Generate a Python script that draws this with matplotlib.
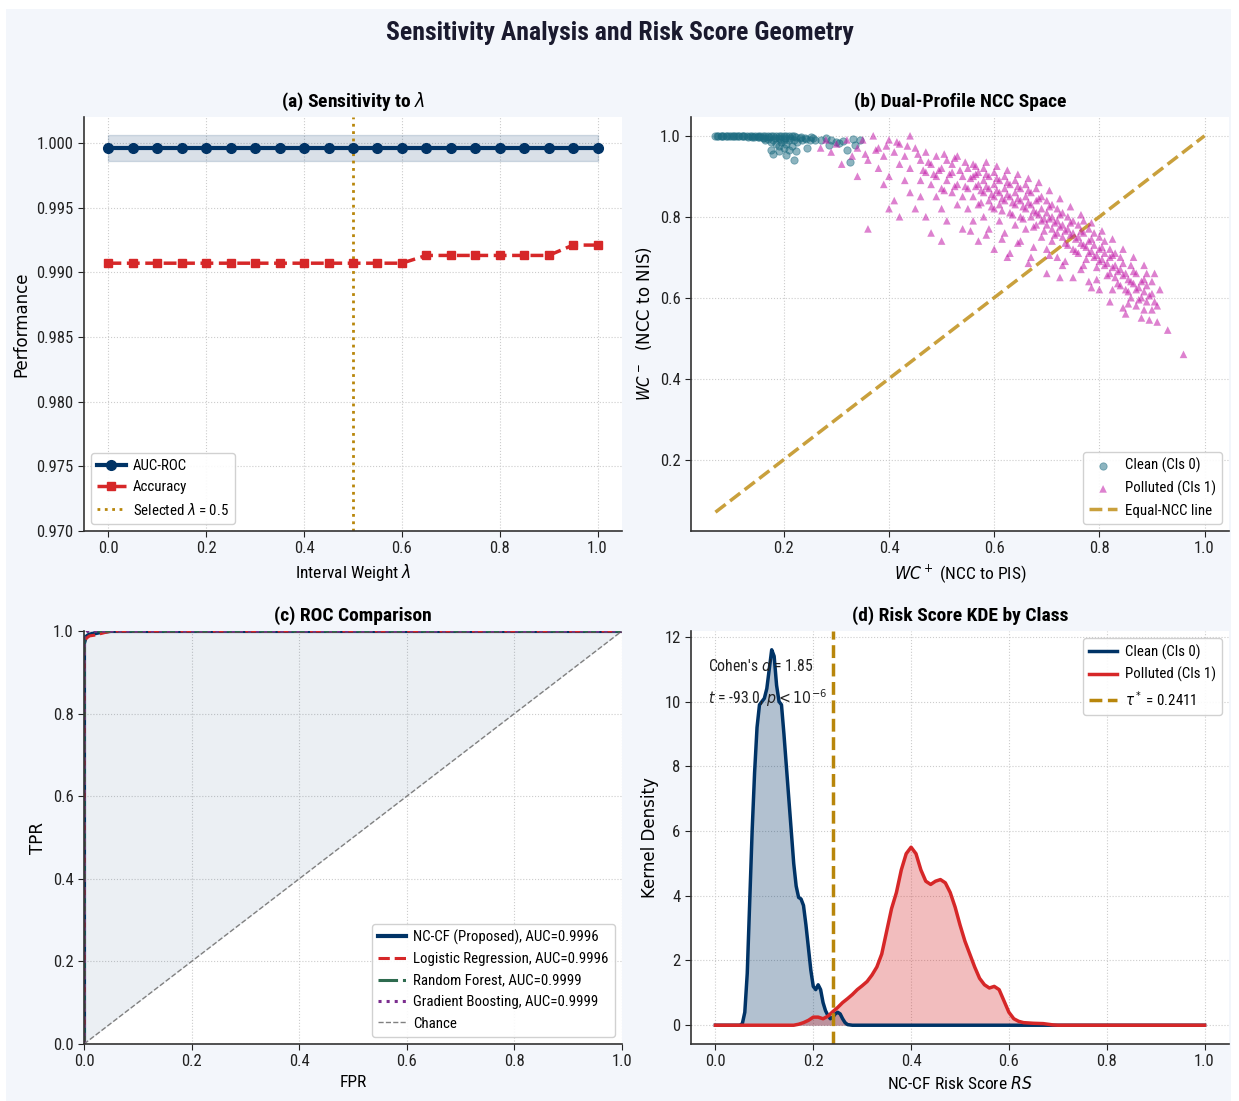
import matplotlib
matplotlib.use("Agg")
import matplotlib.pyplot as plt
from matplotlib.patches import Rectangle
import numpy as np

plt.rcParams['font.family'] = ['Roboto Condensed', 'Liberation Sans Narrow', 'Open Sans Condensed',
                               'Noto Sans Condensed', 'DejaVu Sans']
plt.rcParams['font.stretch'] = 'condensed'
plt.rcParams['axes.unicode_minus'] = False

# ---------------- data ----------------
lam = [0.0, 0.05, 0.1, 0.15, 0.2, 0.25, 0.3, 0.35, 0.4, 0.45, 0.5,
       0.55, 0.6, 0.65, 0.7, 0.75, 0.8, 0.85, 0.9, 0.95, 1.0]
auc_roc = [0.9996] * 21
auc_band = 0.001
accuracy = [0.9907, 0.9907, 0.9907, 0.9907, 0.9907, 0.9907, 0.9907, 0.9907,
            0.9907, 0.9907, 0.9907, 0.9907, 0.9907, 0.9913, 0.9913, 0.9913,
            0.9913, 0.9913, 0.9913, 0.9921, 0.9921]
selected_lambda = 0.5

clean_pts = [
    (0.07, 1.0), (0.075, 1.0), (0.08, 1.0), (0.085, 1.0), (0.09, 1.0), (0.095, 1.0),
    (0.10, 1.0), (0.105, 1.0), (0.11, 1.0), (0.115, 1.0), (0.12, 1.0), (0.125, 1.0),
    (0.13, 1.0), (0.135, 1.0), (0.14, 1.0), (0.145, 1.0), (0.15, 1.0), (0.155, 1.0),
    (0.16, 1.0), (0.165, 1.0), (0.17, 1.0), (0.175, 1.0), (0.18, 1.0), (0.185, 1.0),
    (0.19, 1.0), (0.195, 1.0), (0.20, 1.0), (0.205, 1.0), (0.21, 1.0), (0.215, 1.0),
    (0.22, 1.0), (0.0725, 0.999), (0.0825, 0.999), (0.0925, 0.999), (0.1025, 0.999),
    (0.1125, 0.999), (0.1225, 0.999), (0.1325, 0.998), (0.1425, 0.997), (0.1525, 0.996),
    (0.1625, 0.995), (0.1725, 0.996), (0.1825, 0.994), (0.1925, 0.993), (0.2025, 0.995),
    (0.2125, 0.994), (0.2225, 0.996), (0.2325, 0.997), (0.2425, 0.993), (0.2525, 0.996),
    (0.14, 0.998), (0.15, 0.997), (0.16, 0.995), (0.165, 0.99),
    (0.17, 0.993), (0.175, 0.985), (0.18, 0.99), (0.185, 0.98), (0.19, 0.995),
    (0.19, 0.975), (0.195, 0.985), (0.20, 0.99), (0.20, 0.97), (0.205, 0.98),
    (0.21, 0.99), (0.21, 0.965), (0.215, 0.975), (0.22, 0.99), (0.225, 0.985),
    (0.23, 0.995), (0.235, 0.99), (0.24, 0.995), (0.245, 0.97), (0.25, 0.99),
    (0.255, 0.995), (0.26, 0.99), (0.27, 0.99), (0.28, 0.995), (0.285, 0.978),
    (0.29, 0.99), (0.30, 0.985), (0.305, 0.983), (0.313, 0.988), (0.32, 0.966),
    (0.325, 0.936), (0.332, 0.993), (0.335, 0.978), (0.345, 0.99), (0.175, 0.966),
    (0.19, 0.963), (0.204, 0.953), (0.219, 0.941), (0.223, 0.963), (0.18, 0.955),
]
polluted_pts = [
    (0.27, 0.97), (0.28, 0.99), (0.29, 0.96), (0.30, 0.98), (0.31, 0.93), (0.32, 0.99),
    (0.33, 0.95), (0.34, 0.97), (0.34, 0.90), (0.36, 0.77), (0.35, 0.99), (0.36, 0.94),
    (0.37, 1.0), (0.38, 0.97), (0.38, 0.92), (0.39, 0.95), (0.39, 0.88), (0.40, 0.99),
    (0.40, 0.90), (0.41, 0.96), (0.41, 0.84), (0.42, 0.93), (0.42, 0.98), (0.43, 0.89),
    (0.43, 0.95), (0.44, 0.86), (0.44, 0.92), (0.44, 1.0), (0.45, 0.97), (0.45, 0.82),
    (0.40, 0.82), (0.42, 0.80),
    (0.46, 0.94), (0.46, 0.89), (0.46, 0.85), (0.47, 0.91), (0.47, 0.96), (0.47, 0.80),
    (0.48, 0.88), (0.48, 0.93), (0.48, 0.76), (0.49, 0.90), (0.49, 0.85), (0.49, 0.95),
    (0.50, 0.92), (0.50, 0.87), (0.50, 0.82), (0.50, 0.74), (0.51, 0.94), (0.51, 0.89),
    (0.51, 0.79), (0.52, 0.91), (0.52, 0.86), (0.52, 0.93), (0.53, 0.88), (0.53, 0.83),
    (0.53, 0.95), (0.54, 0.90), (0.54, 0.85), (0.54, 0.77), (0.55, 0.92), (0.55, 0.87),
    (0.55, 0.82), (0.56, 0.90), (0.56, 0.85), (0.56, 0.93), (0.56, 0.79), (0.57, 0.88),
    (0.57, 0.91), (0.57, 0.83), (0.57, 0.74), (0.58, 0.89), (0.58, 0.86), (0.58, 0.92),
    (0.58, 0.80), (0.59, 0.87), (0.59, 0.84), (0.59, 0.90), (0.59, 0.77), (0.60, 0.88),
    (0.60, 0.85), (0.60, 0.91), (0.60, 0.82), (0.60, 0.72), (0.61, 0.86), (0.61, 0.89),
    (0.61, 0.83), (0.61, 0.79), (0.62, 0.87), (0.62, 0.84), (0.62, 0.90), (0.62, 0.76),
    (0.63, 0.85), (0.63, 0.88), (0.63, 0.81), (0.63, 0.71), (0.64, 0.86), (0.64, 0.83),
    (0.64, 0.89), (0.64, 0.78), (0.65, 0.84), (0.65, 0.87),
    (0.65, 0.80), (0.65, 0.74), (0.66, 0.85), (0.66, 0.82), (0.66, 0.88), (0.66, 0.77),
    (0.67, 0.83), (0.67, 0.80), (0.67, 0.86), (0.67, 0.70), (0.68, 0.84), (0.68, 0.81),
    (0.68, 0.78), (0.68, 0.87), (0.69, 0.82), (0.69, 0.79), (0.69, 0.75), (0.69, 0.85),
    (0.70, 0.81), (0.70, 0.78), (0.70, 0.84), (0.70, 0.72), (0.70, 0.66), (0.71, 0.80),
    (0.71, 0.77), (0.71, 0.83), (0.71, 0.74), (0.72, 0.79), (0.72, 0.76), (0.72, 0.82),
    (0.72, 0.70), (0.73, 0.78), (0.73, 0.75), (0.73, 0.81), (0.73, 0.68), (0.74, 0.77),
    (0.74, 0.80), (0.74, 0.73), (0.75, 0.76), (0.75, 0.79),
    (0.75, 0.72), (0.75, 0.65), (0.76, 0.78), (0.76, 0.75), (0.76, 0.71), (0.77, 0.76),
    (0.77, 0.73), (0.77, 0.79), (0.77, 0.68), (0.78, 0.74), (0.78, 0.71), (0.78, 0.77),
    (0.78, 0.64), (0.79, 0.73), (0.79, 0.70), (0.79, 0.76), (0.80, 0.72), (0.80, 0.69),
    (0.80, 0.75), (0.80, 0.62), (0.81, 0.71), (0.81, 0.68), (0.81, 0.74), (0.82, 0.70),
    (0.82, 0.66), (0.82, 0.72), (0.82, 0.59), (0.83, 0.68), (0.83, 0.65), (0.83, 0.71),
    (0.84, 0.67), (0.84, 0.63), (0.84, 0.70), (0.85, 0.66), (0.85, 0.62),
    (0.85, 0.56), (0.86, 0.68), (0.86, 0.64), (0.86, 0.60), (0.87, 0.66), (0.87, 0.62),
    (0.87, 0.58), (0.88, 0.64), (0.88, 0.60), (0.88, 0.55), (0.89, 0.63), (0.89, 0.59),
    (0.89, 0.66), (0.90, 0.61), (0.90, 0.57), (0.90, 0.64), (0.91, 0.58), (0.91, 0.54),
    (0.93, 0.52), (0.96, 0.46),
    (0.555, 0.895), (0.565, 0.875), (0.575, 0.865), (0.585, 0.875), (0.595, 0.855),
    (0.605, 0.865), (0.615, 0.845), (0.625, 0.855), (0.635, 0.835), (0.645, 0.845),
    (0.655, 0.825), (0.665, 0.835), (0.675, 0.815), (0.685, 0.805), (0.695, 0.795),
    (0.705, 0.795), (0.715, 0.785), (0.725, 0.775), (0.735, 0.765), (0.745, 0.755),
    (0.755, 0.745), (0.765, 0.735), (0.775, 0.725), (0.785, 0.715), (0.795, 0.705),
    (0.805, 0.695), (0.815, 0.685), (0.825, 0.675), (0.835, 0.665), (0.845, 0.655),
    (0.855, 0.645), (0.865, 0.635), (0.875, 0.625), (0.885, 0.615), (0.895, 0.605),
    (0.565, 0.905), (0.585, 0.905), (0.605, 0.895), (0.625, 0.885), (0.645, 0.875),
    (0.665, 0.865), (0.685, 0.845), (0.705, 0.825), (0.725, 0.805), (0.745, 0.785),
    (0.765, 0.765), (0.785, 0.745), (0.805, 0.725), (0.825, 0.705), (0.845, 0.685),
    (0.865, 0.665), (0.885, 0.645),
    (0.575, 0.835), (0.595, 0.825), (0.615, 0.815), (0.635, 0.805), (0.655, 0.795),
    (0.675, 0.775), (0.695, 0.765), (0.715, 0.755), (0.735, 0.735), (0.755, 0.715),
    (0.775, 0.695), (0.795, 0.675), (0.815, 0.655), (0.835, 0.635), (0.855, 0.615),
    (0.875, 0.595),
    (0.475, 0.935), (0.495, 0.915), (0.515, 0.905), (0.535, 0.915), (0.545, 0.875),
    (0.525, 0.875), (0.505, 0.865), (0.485, 0.905), (0.465, 0.915), (0.455, 0.955),
    (0.435, 0.975), (0.415, 0.985), (0.395, 0.975), (0.375, 0.965), (0.355, 0.955),
    (0.505, 0.955), (0.525, 0.945), (0.545, 0.935), (0.565, 0.925), (0.585, 0.935),
    (0.605, 0.925), (0.625, 0.915), (0.645, 0.905), (0.665, 0.895), (0.685, 0.885),
    (0.705, 0.865), (0.725, 0.845), (0.745, 0.825), (0.765, 0.805), (0.785, 0.785),
    (0.805, 0.765), (0.825, 0.745), (0.845, 0.72), (0.865, 0.70), (0.885, 0.68),
    (0.905, 0.66),
    (0.555, 0.765), (0.585, 0.755), (0.615, 0.745), (0.645, 0.735), (0.675, 0.725),
    (0.705, 0.705), (0.735, 0.69), (0.765, 0.67), (0.795, 0.645), (0.825, 0.62),
    (0.855, 0.585), (0.885, 0.57), (0.905, 0.59), (0.915, 0.62), (0.895, 0.545),
    (0.845, 0.575), (0.785, 0.625), (0.725, 0.65), (0.665, 0.685), (0.625, 0.70),
]

roc_names = ["NC-CF (Proposed), AUC=0.9996", "Logistic Regression, AUC=0.9996",
             "Random Forest, AUC=0.9999", "Gradient Boosting, AUC=0.9999"]
roc_fpr = [
    [0.0, 0.0, 0.003, 0.008, 0.015, 0.03, 0.05, 1.0],
    [0.0, 0.0, 0.004, 0.010, 0.020, 0.035, 0.05, 1.0],
    [0.0, 0.0, 0.002, 0.005, 0.010, 1.0],
    [0.0, 0.0, 0.002, 0.005, 0.010, 1.0],
]
roc_tpr = [
    [0.0, 0.97, 0.985, 0.99, 0.993, 0.997, 1.0, 1.0],
    [0.0, 0.975, 0.982, 0.988, 0.990, 0.995, 1.0, 1.0],
    [0.0, 0.99, 0.996, 0.999, 1.0, 1.0],
    [0.0, 0.99, 0.996, 0.999, 1.0, 1.0],
]

kde_x_clean = [0.0, 0.05, 0.055, 0.06, 0.065, 0.07, 0.075, 0.08, 0.085, 0.09, 0.095,
               0.10, 0.105, 0.11, 0.115, 0.12, 0.125, 0.13, 0.135, 0.14, 0.145, 0.15,
               0.155, 0.16, 0.165, 0.17, 0.175, 0.18, 0.185, 0.19, 0.195, 0.20, 0.205,
               0.21, 0.215, 0.22, 0.225, 0.23, 0.235, 0.24, 0.245, 0.25, 0.255, 0.26,
               0.265, 0.27, 0.28, 1.0]
kde_y_clean = [0.0, 0.0, 0.05, 0.4, 1.6, 3.8, 6.0, 7.8, 9.2, 9.9, 10.0,
               10.1, 10.4, 11.0, 11.6, 11.4, 10.5, 10.0, 9.9, 9.0, 8.0, 7.0,
               6.0, 5.0, 4.3, 3.95, 3.9, 3.7, 3.1, 2.4, 1.7, 1.2, 1.1,
               1.25, 1.1, 0.7, 0.45, 0.3, 0.2, 0.25, 0.35, 0.4, 0.35, 0.2,
               0.08, 0.02, 0.0, 0.0]
kde_x_poll = [0.0, 0.16, 0.17, 0.18, 0.19, 0.20, 0.21, 0.22, 0.23, 0.24, 0.25, 0.26,
              0.27, 0.28, 0.29, 0.30, 0.31, 0.32, 0.33, 0.34, 0.35, 0.36, 0.37, 0.38,
              0.39, 0.40, 0.41, 0.42, 0.43, 0.44, 0.45, 0.46, 0.47, 0.48, 0.49, 0.50,
              0.51, 0.52, 0.53, 0.54, 0.55, 0.56, 0.57, 0.58, 0.59, 0.60, 0.61, 0.62,
              0.63, 0.65, 0.67, 0.69, 0.70, 1.0]
kde_y_poll = [0.0, 0.0, 0.03, 0.08, 0.15, 0.25, 0.25, 0.2, 0.28, 0.42, 0.55, 0.7,
              0.82, 0.95, 1.1, 1.22, 1.35, 1.55, 1.8, 2.2, 2.9, 3.6, 4.1, 4.8,
              5.3, 5.5, 5.3, 4.8, 4.45, 4.35, 4.45, 4.5, 4.4, 4.1, 3.65, 3.1,
              2.6, 2.2, 1.8, 1.45, 1.25, 1.15, 1.2, 1.1, 0.75, 0.4, 0.2, 0.12,
              0.08, 0.06, 0.05, 0.01, 0.0, 0.0]
tau_star = 0.2411
cohens_d = 1.85
t_stat = -93.0

# ---------------- style ----------------
NAVY = '#003366'
RED = '#d62728'
GOLD = '#b8860b'
TEAL = '#1b6b80'
MAGENTA = '#c21aa8'
GREEN = '#2e6b4f'
PURPLE = '#7b2d8e'
BG = '#f3f6fb'
TICK_FS = 12
LAB_FS = 12.5
YLAB_FS = 12
TITLE_FS = 14
LEG_FS = 10.7

fig = plt.figure(figsize=(12.39, 11.01), dpi=100, facecolor='white')
fig.patches.append(Rectangle((6 / 1239, 0), (1231 - 6) / 1239, 1 - 9 / 1101,
                             transform=fig.transFigure, facecolor=BG,
                             edgecolor='none', zorder=-10))

W, H = 1239, 1101
def mk(l, r, t, b):
    return fig.add_axes([l / W, 1 - b / H, (r - l) / W, (b - t) / H])

ax_a = mk(84, 622, 117, 531)
ax_b = mk(691, 1229, 117, 531)
ax_c = mk(84, 622, 631, 1044)
ax_d = mk(691, 1229, 631, 1044)

for ax in (ax_a, ax_b, ax_c, ax_d):
    ax.set_facecolor('white')
    ax.spines['top'].set_visible(False)
    ax.spines['right'].set_visible(False)
    for s in ('left', 'bottom'):
        ax.spines[s].set_color('#333333')
        ax.spines[s].set_linewidth(1.2)
    ax.grid(True, linestyle=':', color='#cccccc', linewidth=0.8)
    ax.set_axisbelow(True)
    ax.tick_params(labelsize=TICK_FS, colors='#222222', length=4)

def leg(ax, loc):
    return ax.legend(loc=loc, fontsize=LEG_FS, frameon=True, fancybox=True,
                     framealpha=0.9, edgecolor='#cccccc', handlelength=1.9,
                     handletextpad=0.5)

def ylab(ax, text):
    ax.set_ylabel(text, fontsize=YLAB_FS, family='DejaVu Sans', stretch='normal')

# ---- (a) ----
lam_a = np.array(lam)
auc_a = np.array(auc_roc)
ax_a.fill_between(lam_a, auc_a - auc_band, auc_a + auc_band, color=NAVY, alpha=0.15)
ax_a.plot(lam_a, auc_a, '-o', color=NAVY, lw=3, ms=7, label='AUC-ROC', zorder=3)
ax_a.plot(lam_a, accuracy, '--s', color=RED, lw=2.5, ms=6, label='Accuracy', zorder=3)
ax_a.axvline(selected_lambda, color=GOLD, ls=':', lw=2,
             label=r'Selected $\lambda$ = %.1f' % selected_lambda)
ax_a.set_ylim(0.970, 1.002)
yt = [0.970, 0.975, 0.980, 0.985, 0.990, 0.995, 1.000]
ax_a.set_yticks(yt)
ax_a.set_yticklabels(['%.3f' % v for v in yt])
ax_a.set_xticks([0.0, 0.2, 0.4, 0.6, 0.8, 1.0])
ax_a.set_xlabel(r'Interval Weight $\lambda$', fontsize=LAB_FS)
ylab(ax_a, 'Performance')
ax_a.set_title(r'(a) Sensitivity to $\lambda$', fontsize=TITLE_FS, fontweight='bold', pad=7)
leg(ax_a, 'lower left')

# ---- (b) ----
cx = [p[0] for p in clean_pts]
cy = [p[1] for p in clean_pts]
px = [p[0] for p in polluted_pts]
py = [p[1] for p in polluted_pts]
ax_b.scatter(cx, cy, s=28, marker='o', color=TEAL, alpha=0.5, edgecolors=TEAL,
             linewidths=0.6, label='Clean (Cls 0)', zorder=3)
ax_b.scatter(px, py, s=30, marker='^', color=MAGENTA, alpha=0.55, edgecolors='none',
             label='Polluted (Cls 1)', zorder=3)
lo = min(min(cx), min(px))
ax_b.plot([lo, 1.0], [lo, 1.0], '--', color='#c9a03c', lw=2.5, label='Equal-NCC line')
ax_b.set_xticks([0.2, 0.4, 0.6, 0.8, 1.0])
ax_b.set_yticks([0.2, 0.4, 0.6, 0.8, 1.0])
ax_b.set_xlabel(r'$WC^+$ (NCC to PIS)', fontsize=LAB_FS)
ylab(ax_b, r'$WC^-$  (NCC to NIS)')
ax_b.set_title('(b) Dual-Profile NCC Space', fontsize=TITLE_FS, fontweight='bold', pad=7)
leg(ax_b, 'lower right')

# ---- (c) ----
fpr0 = np.array(roc_fpr[0])
tpr0 = np.array(roc_tpr[0])
ax_c.fill_between(fpr0, tpr0, fpr0, color=NAVY, alpha=0.08, lw=0)
styles = [dict(color=NAVY, ls='-', lw=3),
          dict(color=RED, ls='--', lw=2.2),
          dict(color=GREEN, ls='-.', lw=2.2),
          dict(color=PURPLE, ls=':', lw=2.2)]
for name, f, t, st in zip(roc_names, roc_fpr, roc_tpr, styles):
    ax_c.plot(f, t, label=name, **st)
ax_c.plot([0, 1], [0, 1], '--', color='grey', lw=1, label='Chance')
ax_c.set_xlim(0, 1)
ax_c.set_ylim(0, 1)
ax_c.set_xticks([0.0, 0.2, 0.4, 0.6, 0.8, 1.0])
ax_c.set_yticks([0.0, 0.2, 0.4, 0.6, 0.8, 1.0])
ax_c.set_xlabel('FPR', fontsize=LAB_FS)
ylab(ax_c, 'TPR')
ax_c.set_title('(c) ROC Comparison', fontsize=TITLE_FS, fontweight='bold', pad=7)
leg(ax_c, 'lower right')

# ---- (d) ----
ax_d.fill_between(kde_x_clean, kde_y_clean, color=NAVY, alpha=0.3, lw=0)
ax_d.plot(kde_x_clean, kde_y_clean, color=NAVY, lw=2.5, label='Clean (Cls 0)')
ax_d.fill_between(kde_x_poll, kde_y_poll, color=RED, alpha=0.3, lw=0)
ax_d.plot(kde_x_poll, kde_y_poll, color=RED, lw=2.5, label='Polluted (Cls 1)')
ax_d.axvline(tau_star, color=GOLD, ls='--', lw=2.5, label=r'$\tau^*$ = %.4f' % tau_star)
ax_d.set_yticks([0, 2, 4, 6, 8, 10, 12])
ax_d.set_xticks([0.0, 0.2, 0.4, 0.6, 0.8, 1.0])
ax_d.set_xlabel(r'NC-CF Risk Score $RS$', fontsize=LAB_FS)
ylab(ax_d, 'Kernel Density')
ax_d.set_title('(d) Risk Score KDE by Class', fontsize=TITLE_FS, fontweight='bold', pad=7)
ax_d.text(-0.016, 11.1, "Cohen's $d$ = %.2f" % cohens_d, fontsize=11.3,
          va='center', ha='left', color='#222222')
ax_d.text(-0.016, 10.1, "$t$ = %.1f, $p < 10^{-6}$" % t_stat, fontsize=11.3,
          va='center', ha='left', color='#222222')
leg(ax_d, 'upper right')

fig.suptitle('Sensitivity Analysis and Risk Score Geometry', fontsize=18.5,
             fontweight='bold', y=1 - 33 / H, va='center', color='#1a1a2e')

fig.savefig('out.png', dpi=100, facecolor=fig.get_facecolor())
